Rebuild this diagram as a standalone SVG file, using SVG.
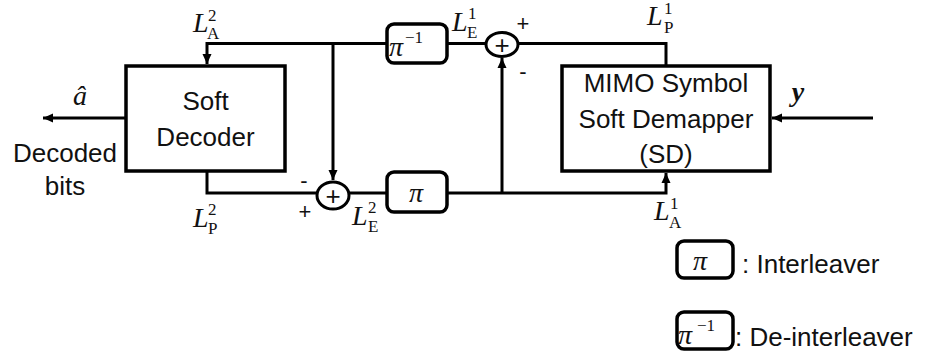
<svg xmlns="http://www.w3.org/2000/svg" width="939" height="358" viewBox="0 0 939 358">
<defs>
<marker id="arr" markerUnits="userSpaceOnUse" markerWidth="10" markerHeight="10" viewBox="0 0 10 10" refX="10" refY="5" orient="auto">
<path d="M0,0.5 L10,5 L0,9.5 z" fill="#000"/>
</marker>
</defs>
<style>
.ln{fill:none;stroke:#000;stroke-width:3}
.box{fill:#fff;stroke:#000;stroke-width:3.5}
.sum{fill:#fff;stroke:#000;stroke-width:3}
.t{font-family:"Liberation Sans",Arial,sans-serif;font-size:26px;fill:#111}
.pm{font-family:"Liberation Sans",Arial,sans-serif;font-size:22px;fill:#111}
.cp{font-family:"Liberation Sans",Arial,sans-serif;font-size:26px;fill:#111}
.m{font-family:"Liberation Serif","Times New Roman",serif;font-style:italic;font-size:28px;fill:#111}
.r{font-family:"Liberation Serif","Times New Roman",serif;font-size:17px;fill:#111}
.mi{font-family:"Liberation Serif","Times New Roman",serif;font-style:italic;font-size:28px;fill:#111}
</style>
<g id="connectors">
<path class="ln" d="M666,66 L666,43.5 L207,43.5 L207,64" marker-end="url(#arr)"/>
<path class="ln" d="M333,43.5 L333,180" marker-end="url(#arr)"/>
<path class="ln" d="M207,171 L207,193 L666,193 L666,173" marker-end="url(#arr)"/>
<path class="ln" d="M502,193 L502,58" marker-end="url(#arr)"/>
<path class="ln" d="M126,118 L43,118" marker-end="url(#arr)"/>
<path class="ln" d="M873,118 L772,118" marker-end="url(#arr)"/>
</g>
<g id="decoder">
<rect class="box" x="126" y="66" width="159" height="105"/>
<text class="t" x="205.5" y="110" text-anchor="middle">Soft</text>
<text class="t" x="205.5" y="146" text-anchor="middle">Decoder</text>
</g>
<g id="demapper">
<rect class="box" x="562" y="66" width="208" height="105"/>
<text class="t" x="666" y="92" text-anchor="middle">MIMO Symbol</text>
<text class="t" x="666" y="128" text-anchor="middle">Soft Demapper</text>
<text class="t" x="666" y="163" text-anchor="middle">(SD)</text>
</g>
<g id="deinterleaver">
<rect class="box" x="387" y="24" width="60" height="39" rx="7"/>
<text class="m" x="389" y="56">π</text>
<text class="r" x="405" y="43" font-size="22">−1</text>
</g>
<g id="interleaver">
<rect class="box" x="387" y="172" width="60" height="40" rx="7"/>
<text class="m" x="416" y="202" text-anchor="middle">π</text>
</g>
<g id="sum-top">
<ellipse class="sum" cx="502" cy="44.5" rx="16" ry="12"/>
<text class="cp" x="502" y="53.5" text-anchor="middle">+</text>
</g>
<g id="sum-bottom">
<ellipse class="sum" cx="333" cy="195.5" rx="16" ry="13.5"/>
<text class="cp" x="333" y="204.5" text-anchor="middle">+</text>
</g>
<g id="labels">
<text class="pm" x="523" y="31" text-anchor="middle">+</text>
<text class="pm" x="523" y="79" text-anchor="middle">-</text>
<text class="pm" x="304" y="188" text-anchor="middle">-</text>
<text class="pm" x="305" y="219" text-anchor="middle">+</text>
<text class="m" x="193" y="32">L</text><text class="r" x="208" y="21">2</text><text class="r" x="207" y="39">A</text>
<text class="m" x="193" y="227">L</text><text class="r" x="208" y="215">2</text><text class="r" x="208" y="234">P</text>
<text class="m" x="452" y="31">L</text><text class="r" x="468" y="19">1</text><text class="r" x="467" y="38">E</text>
<text class="m" x="352" y="225">L</text><text class="r" x="368" y="213">2</text><text class="r" x="368" y="232">E</text>
<text class="m" x="647" y="25">L</text><text class="r" x="664" y="14">1</text><text class="r" x="664" y="33">P</text>
<text class="m" x="654" y="220">L</text><text class="r" x="670" y="209">1</text><text class="r" x="669" y="228">A</text>
<text class="mi" x="80" y="105" text-anchor="middle">â</text>
<text class="mi" x="798" y="101" text-anchor="middle" font-weight="bold">y</text>
<text class="t" x="65" y="162" text-anchor="middle">Decoded</text>
<text class="t" x="65" y="195" text-anchor="middle">bits</text>
</g>
<g id="legend">
<rect class="box" x="677" y="241" width="56" height="37" rx="7" stroke-width="3"/>
<text class="m" x="700" y="270" text-anchor="middle">π</text>
<text class="t" x="742" y="273">: Interleaver</text>
<rect class="box" x="677" y="312" width="56" height="37" rx="7" stroke-width="3"/>
<text class="m" x="678" y="344">π</text>
<text class="r" x="697" y="331" font-size="22">−1</text>
<text class="t" x="735" y="346">:  De-interleaver</text>
</g>
</svg>
